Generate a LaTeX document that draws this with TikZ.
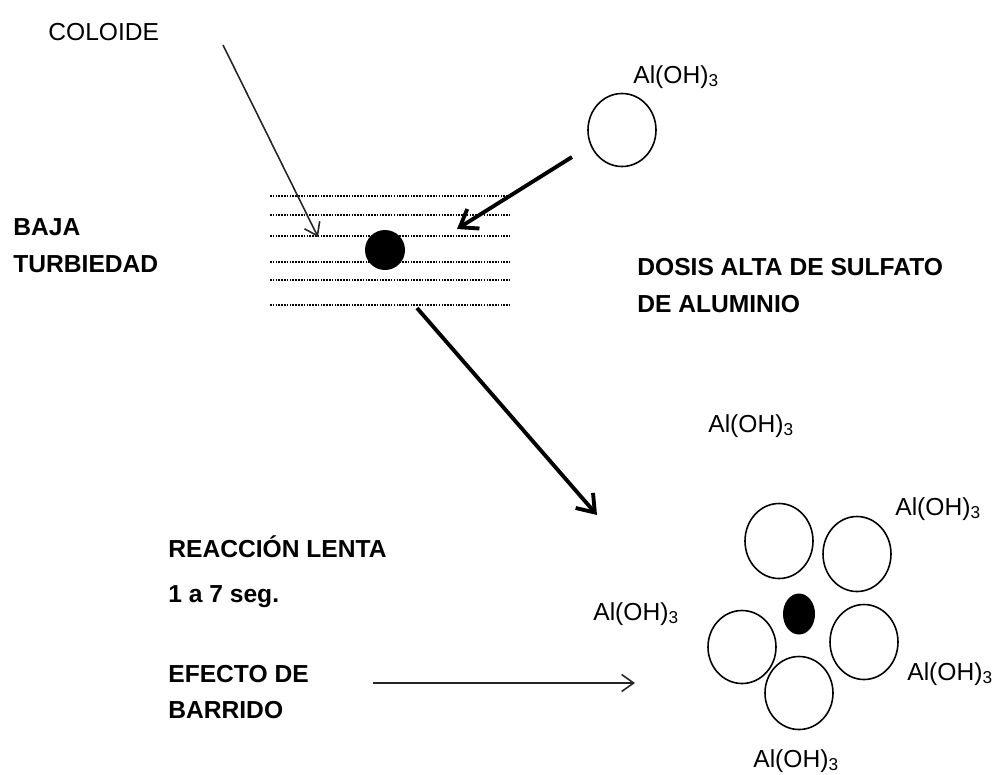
\documentclass[tikz,border=0pt]{standalone}
\usepackage{fontspec}
\setmainfont{Liberation Sans}
\usetikzlibrary{arrows.meta,shapes.geometric}

\begin{document}
\begin{tikzpicture}[
  x=0.2mm,y=-0.2mm,
  >={Straight Barb[length=2.4mm,width=3.4mm]},
  label/.style={inner sep=0pt,anchor=base west,font=\fontsize{14}{16}\selectfont},
  title/.style={inner sep=0pt,anchor=base west,font=\fontsize{14}{16}\selectfont\bfseries},
  floc/.style={draw,ellipse,line width=0.9pt,minimum width=13.6mm,minimum height=15mm,inner sep=0pt},
  core/.style={fill=black,ellipse,inner sep=0pt},
  haze/.style={line width=1.1pt,dash pattern=on 0.9pt off 0.7pt},
  thinarrow/.style={->,line width=0.9pt,color=black!85},
  thickarrow/.style={->,line width=2.2pt,>={Straight Barb[length=3.2mm,width=4.6mm]}}
]
\useasboundingbox (0,0) rectangle (994,774);

% top left: colloid in turbid water
\node[label] (coloide) at (48,40) {COLOIDE};
\node[title] (baja) at (13,235) {BAJA};
\node[title] (turbiedad) at (13,272) {TURBIEDAD};
\foreach \y in {196,215,236,262,280,305}
  \draw[haze] (270,\y) -- (510,\y);
\node[core,minimum width=8mm,minimum height=8mm] (colpart) at (385,250) {};
\coordinate (coltail) at (223,45);
\coordinate (coltip) at (318,237);
\draw[thinarrow] (coltail) -- (coltip);

% coagulant dose
\node[floc,minimum height=14.6mm] (alum) at (622,130) {};
\node[label] (alumlbl) at (633,83) {Al(OH)\textsubscript{3}};
\coordinate (dosetail) at (572,157);
\coordinate (dosetip) at (457,229);
\draw[thickarrow] (dosetail) -- (dosetip);
\node[title] (dosis) at (637,275) {DOSIS ALTA DE SULFATO};
\node[title] (aluminio) at (637,312) {DE ALUMINIO};

% sweep floc
\coordinate (sweeptail) at (417,308);
\coordinate (sweeptip) at (597,515);
\draw[thickarrow] (sweeptail) -- (sweeptip);
\node[label] (almid) at (708,432) {Al(OH)\textsubscript{3}};

\node[floc] (f1) at (779,541) {};
\node[floc] (f2) at (857,554) {};
\node[floc] (f3) at (864,642) {};
\node[floc,minimum height=14.6mm] (f4) at (742,647) {};
\node[floc,minimum height=14.6mm] (f5) at (799,693) {};
\node[core,minimum width=6.4mm,minimum height=8.2mm] (flocpart) at (799,614) {};

\node[label] (al1) at (895,515) {Al(OH)\textsubscript{3}};
\node[label] (al2) at (593,620) {Al(OH)\textsubscript{3}};
\node[label] (al3) at (907,680) {Al(OH)\textsubscript{3}};
\node[label] (al4) at (753,767) {Al(OH)\textsubscript{3}};

% bottom left notes
\node[title] (reaccion) at (168,557) {REACCIÓN LENTA};
\node[title] (tiempo) at (168,602) {1 a 7 seg.};
\node[title] (efecto) at (168,682) {EFECTO DE};
\node[title] (barrido) at (168,718) {BARRIDO};
\coordinate (bartail) at (373,683);
\coordinate (bartip) at (635,683);
\draw[thinarrow] (bartail) -- (bartip);
\end{tikzpicture}
\end{document}
